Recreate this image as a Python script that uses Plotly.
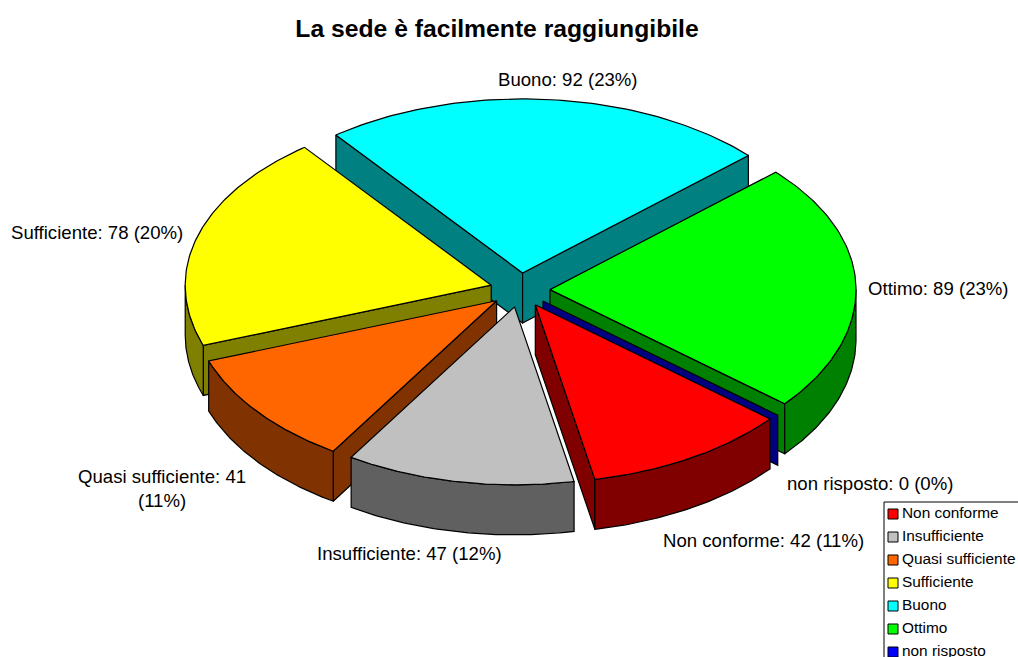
import numpy as np
import plotly.graph_objects as go

# Data, in legend order
categories = ["Non conforme", "Insufficiente", "Quasi sufficiente", "Sufficiente", "Buono", "Ottimo", "non risposto"]
values = [42, 47, 41, 78, 92, 89, 0]
percents = [11, 12, 11, 20, 23, 23, 0]
top_colors = ["#ff0000", "#c0c0c0", "#ff6600", "#ffff00", "#00ffff", "#00ff00", "#0000ff"]
side_colors = ["#800000", "#606060", "#803300", "#808000", "#008080", "#008000", "#000080"]

# Pie order (clockwise from the start angle) and painter order
pie_order = ["Buono", "Ottimo", "non risposto", "Non conforme", "Insufficiente", "Quasi sufficiente", "Sufficiente"]
paint_order = ["Buono", "Sufficiente", "Ottimo", "Quasi sufficiente", "non risposto", "Non conforme", "Insufficiente"]

# Geometry of the projected pie (pixel space)
CX, CY = 520, 290
RX = 306
RY_BACK, RY_FRONT = 174, 178
EXPLODE = 30
DEPTH = 50
START = -37.6

label_pos = {
    "Buono": (568, 79), "Ottimo": (938, 288), "non risposto": (870, 483),
    "Non conforme": (763, 540), "Insufficiente": (409, 553),
    "Quasi sufficiente": (162, 488), "Sufficiente": (97, 232),
}

val = dict(zip(categories, values))
pct = dict(zip(categories, percents))
top = dict(zip(categories, top_colors))
side = dict(zip(categories, side_colors))

total = sum(values)
spans = {}
a = START
for c in pie_order:
    s = val[c] / total * 360
    spans[c] = (a, a + s)
    a += s

fig = go.Figure()


def poly(xs, ys, color):
    fig.add_trace(go.Scatter(x=np.r_[xs, xs[0]], y=np.r_[ys, ys[0]], mode="lines", fill="toself",
                             fillcolor=color, line=dict(color="black", width=1.2),
                             hoverinfo="skip", showlegend=False))


def rim(ax, ay, th):
    r = np.radians(th)
    cos = np.cos(r)
    return ax + RX * np.sin(r), ay - np.where(cos > 0, RY_BACK, RY_FRONT) * cos


for c in paint_order:
    t0, t1 = spans[c]
    mid = np.radians((t0 + t1) / 2)
    ax = CX + EXPLODE * np.sin(mid)
    ay = CY - EXPLODE * 175 / RX * np.cos(mid)
    # radial walls
    walls = []
    if np.sin(np.radians(t0)) < 0:
        walls.append(t0)
    if np.sin(np.radians(t1)) > 0:
        walls.append(t1)
    for th in walls:
        ex, ey = rim(ax, ay, th)
        poly(np.array([ax, ex, ex, ax]), np.array([ay, ey, ey + DEPTH, ay + DEPTH]), side[c])
    # outer wall (front half only)
    lo, hi = max(t0, 90), min(t1, 270)
    if hi > lo:
        th = np.linspace(lo, hi, 60)
        ex, ey = rim(ax, ay, th)
        poly(np.r_[ex, ex[::-1]], np.r_[ey, ey[::-1] + DEPTH], side[c])
    # top face
    if t1 > t0:
        th = np.linspace(t0, t1, 90)
        ex, ey = rim(ax, ay, th)
        poly(np.r_[ax, ex], np.r_[ay, ey], top[c])

# Data labels
for c in categories:
    x, y = label_pos[c]
    text = f"{c}: {val[c]} ({pct[c]}%)"
    if c == "Quasi sufficiente":
        text = f"{c}: {val[c]}<br>({pct[c]}%)"
    fig.add_annotation(x=x, y=y, text=text, showarrow=False, xanchor="center", yanchor="middle",
                       font=dict(family="Liberation Sans", size=18.6, color="black"))

# Legend box, running off the page as in the reference
fig.add_shape(type="rect", x0=884, y0=502, x1=1030, y1=680, line=dict(color="black", width=1), fillcolor="white", layer="below")
legend_y = [514, 537, 560, 583, 606, 629, 652]
fig.add_trace(go.Scatter(x=[893] * len(categories), y=legend_y, mode="markers", cliponaxis=False,
                         marker=dict(symbol="square", size=10, color=top_colors, line=dict(color="black", width=1)),
                         hoverinfo="skip", showlegend=False))
fig.add_trace(go.Scatter(x=[902] * len(categories), y=legend_y, mode="text", text=categories,
                         textposition="middle right", cliponaxis=False,
                         textfont=dict(family="Liberation Sans", size=15.4, color="black"),
                         hoverinfo="skip", showlegend=False))

fig.update_layout(
    width=1018, height=657, margin=dict(l=0, r=0, t=0, b=0),
    paper_bgcolor="white", plot_bgcolor="white", showlegend=False,
    xaxis=dict(range=[0, 1018], visible=False, fixedrange=True),
    yaxis=dict(range=[657, 0], visible=False, fixedrange=True),
    title=dict(text="<b>La sede è facilmente raggiungibile</b>", x=497 / 1018, xanchor="center",
               y=1 - 28 / 657, yanchor="middle",
               font=dict(family="Liberation Sans", size=24.7, color="black")),
)
fig.write_html("out.html", config={"displayModeBar": False},
               post_script="document.body.style.margin='0';document.documentElement.style.overflow='hidden';")
